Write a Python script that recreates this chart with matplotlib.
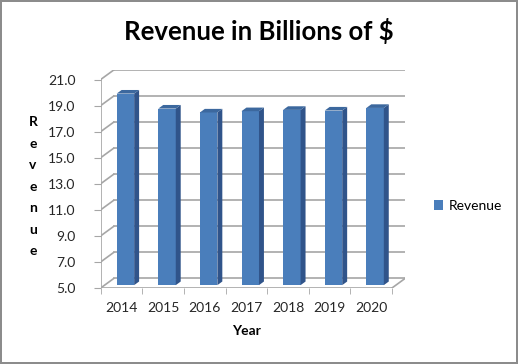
import matplotlib
matplotlib.use('Agg')
import matplotlib.pyplot as plt
from matplotlib.patches import Polygon, Patch

plt.rcParams['font.family'] = ['Lato', 'DejaVu Sans']

years = ['2014', '2015', '2016', '2017', '2018', '2019', '2020']
revenue = [19.7, 18.55, 18.25, 18.35, 18.45, 18.4, 18.6]
y_ticks = [5, 7, 9, 11, 13, 15, 17, 19, 21]

# depth of the fake 3d box, in data units
dxd = 0.313
dyd = 0.73
f0 = 0.3      # where the bar front sits in the depth
fd = 0.38     # bar depth
bw = 0.42

grid_c = '#A6A6A6'
front_c = '#4A7EBB'
side_c = '#30548A'
top_c = '#3C689E'

fig = plt.figure(figsize=(5.18, 3.64), dpi=100)
fig.patch.set_edgecolor('#8C8C8C')
fig.patch.set_linewidth(1.5)
ax = fig.add_axes([100.7 / 518, 76 / 364, 304.3 / 518, 218 / 364])
ymin, ymax = y_ticks[0], y_ticks[-1]
n = len(years)
ax.set_xlim(-0.5, n - 0.5 + dxd)
ax.set_ylim(ymin, ymax + dyd)
for s in ax.spines.values():
    s.set_visible(False)

# walls and floor
for y in y_ticks:
    ax.plot([-0.5 + dxd, n - 0.5 + dxd], [y + dyd, y + dyd], color=grid_c, lw=1.2, zorder=1)
    ax.plot([-0.5, -0.5 + dxd], [y, y + dyd], color=grid_c, lw=1.2, zorder=1)
ax.plot([-0.5, -0.5], [ymin, ymax], color=grid_c, lw=1.2, zorder=1)
ax.plot([-0.5, n - 0.5], [ymin, ymin], color=grid_c, lw=1.2, zorder=1)
ax.plot([n - 0.5, n - 0.5 + dxd], [ymin, ymin + dyd], color=grid_c, lw=1.2, zorder=1)

# bars
for i, v in enumerate(revenue):
    x0 = i + f0 * dxd - bw / 2
    b0 = ymin + f0 * dyd
    top = v + f0 * dyd
    ox, oy = fd * dxd, fd * dyd
    ax.bar(x0, v - ymin, width=bw, bottom=b0, align='edge', color=front_c, zorder=3, lw=0)
    ax.add_patch(Polygon([(x0 + bw, b0), (x0 + bw + ox, b0 + oy), (x0 + bw + ox, top + oy), (x0 + bw, top)],
                         closed=True, facecolor=side_c, lw=0, zorder=3))
    ax.add_patch(Polygon([(x0, top), (x0 + ox, top + oy), (x0 + bw + ox, top + oy), (x0 + bw, top)],
                         closed=True, facecolor=top_c, lw=0, zorder=3))

ax.set_yticks(y_ticks)
ax.set_yticklabels(['%.1f' % t for t in y_ticks])
ax.tick_params(axis='y', direction='out', length=5, color=grid_c, pad=13, labelsize=10, labelcolor='#262626')
ax.set_xticks(range(n))
ax.set_xticklabels(years)
ax.set_xticks([i - 0.5 for i in range(n + 1)], minor=True)
ax.tick_params(axis='x', which='major', length=0, pad=10, labelsize=10, labelcolor='#262626')
ax.tick_params(axis='x', which='minor', direction='out', length=4, color=grid_c)

fig.text(259 / 518, 1 - 31 / 364, 'Revenue in Billions of $', ha='center', va='center',
         fontsize=18.5, fontweight='bold')
fig.text(246 / 518, 1 - 331 / 364, 'Year', ha='center', va='center', fontsize=10, fontweight='bold')
fig.text(33 / 518, 1 - 187 / 364, '\n'.join('Revenue'), ha='center', va='center', fontsize=10,
         fontweight='bold', linespacing=1.95)

fig.legend(handles=[Patch(facecolor=front_c)], labels=['Revenue'], loc='center left',
           bbox_to_anchor=(421 / 518, 1 - 206 / 364), frameon=False, handlelength=0.7,
           handleheight=0.7, handletextpad=0.4, fontsize=10)

plt.savefig('out.png', dpi=100)
